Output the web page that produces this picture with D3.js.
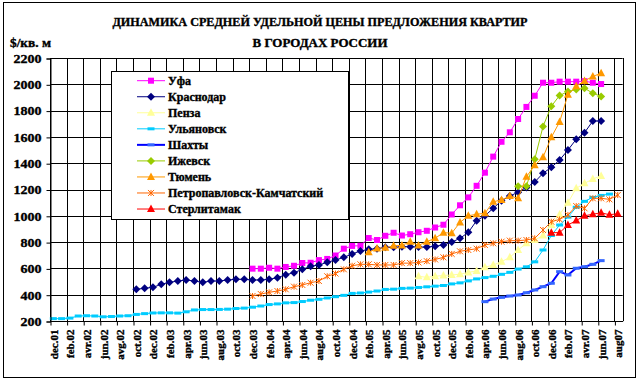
<!DOCTYPE html>
<html><head><meta charset="utf-8">
<script src="https://cdn.jsdelivr.net/npm/d3@7"></script>
<style>body{margin:0;background:#fff}svg{display:block}</style>
</head><body><svg id="c" width="643" height="384"></svg>
<script>
// ---------- DATA ----------
const titleLines = ["ДИНАМИКА СРЕДНЕЙ УДЕЛЬНОЙ ЦЕНЫ ПРЕДЛОЖЕНИЯ КВАРТИР", "В ГОРОДАХ РОССИИ"];
const unitLabel = "$/кв. м";
// month index 0 = dec.01; labels every 2 months
const xLabels = ["dec.01","feb.02","avr.02","jun.02","avg.02","oct.02","dec.02","feb.03","apr.03","jun.03","aug.03","oct.03","dec.03","feb.04","apr.04","jun.04","aug.04","oct.04","dec.04","feb.05","apr.05","jun.05","avg.05","oct.05","dec.05","feb.06","apr.06","jun.06","aug.06","oct.06","dec.06","feb.07","avr.07","jun.07","aug07"];
const yTicks = [200,400,600,800,1000,1200,1400,1600,1800,2000,2200];
const cityNames = ["Уфа","Краснодар","Пенза","Ульяновск","Шахты","Ижевск","Тюмень","Петропавловск-Камчатский","Стерлитамак"];
// first month index of each series (same order as cityNames)
const seriesStart = [24,10,44,0,52,56,38,24,60];
const ufa = [598,598,605,598,611,620,641,643,663,672,698,750,771,772,831,816,848,871,850,860,875,886,911,932,1010,1080,1140,1228,1328,1450,1563,1635,1736,1828,1913,2012,2012,2020,2020,2020,2024,2012,2002];
const krasnodar = [441,449,456,479,494,504,512,504,494,504,504,512,517,517,512,512,517,529,552,567,593,616,626,646,664,684,710,732,745,750,760,760,765,765,762,762,768,778,800,829,874,963,1000,1057,1115,1150,1180,1215,1257,1323,1369,1424,1500,1582,1632,1721,1721];
const penza = [540,532,540,546,550,556,569,581,608,626,651,684,740,791,816,850,930,1010,1100,1209,1247,1280,1303];
const ulyanovsk = [218,218,222,238,240,238,232,234,238,240,250,256,261,262,262,260,270,284,287,287,288,290,295,298,305,314,325,330,338,340,348,358,365,375,385,395,410,413,420,428,440,442,448,450,455,460,465,470,482,490,505,520,530,540,555,570,595,612,650,740,850,930,990,1065,1110,1140,1155,1165];
const shakhty = [347,367,380,390,398,415,436,461,487,575,550,601,613,631,659];
const izhevsk = [1225,1225,1430,1680,1833,1915,1945,1960,1970,1932,1908];
const tyumen = [722,752,757,772,775,803,775,803,829,872,868,950,1000,1012,1019,1107,1120,1150,1133,1297,1384,1445,1597,1714,1920,1985,2026,2060,2084];
const petropavlovsk = [390,405,418,428,441,461,474,491,504,540,561,593,620,631,631,626,626,626,640,640,645,655,668,684,710,730,740,750,778,791,803,811,811,816,829,892,955,973,1006,1074,1057,1133,1133,1125,1158];
const sterlitamak = [872,872,930,964,1000,1012,1023,1008,1016];

// ---------- STYLE ----------
const seriesValues = [ufa,krasnodar,penza,ulyanovsk,shakhty,izhevsk,tyumen,petropavlovsk,sterlitamak];
const styles = [
  {line:"#FF00FF", lw:1, marker:"square", fill:"#FF00FF"},
  {line:"#000080", lw:1, marker:"diamond", fill:"#000080"},
  {line:"#FFFF99", lw:1, marker:"triangle", fill:"#FFFF99"},
  {line:"#00CCFF", lw:1, marker:"dash", fill:"#00CCFF"},
  {line:"#0000FF", lw:2, marker:"dash", fill:"#3366FF"},
  {line:"#99CC00", lw:1, marker:"diamond", fill:"#99CC00"},
  {line:"#FF9900", lw:1, marker:"triangle", fill:"#FF9900"},
  {line:"#FF6600", lw:1, marker:"star", fill:"#FF6600"},
  {line:"#FF0000", lw:1, marker:"triangle", fill:"#FF0000"}
];
const FONT = "'Liberation Serif','Times New Roman',serif";
const pointOffset = 0.4;
const heavy = sel => sel.attr("stroke","#000").attr("stroke-width",0.35);

const svg = d3.select("#c");
svg.append("rect").attr("x",0).attr("y",0).attr("width",643).attr("height",384).attr("fill","#fff");
svg.append("rect").attr("x",3.5).attr("y",2.5).attr("width",632).attr("height",375)
   .attr("fill","none").attr("stroke","#000").attr("stroke-width",1);

const x = d3.scaleLinear().domain([0,69]).range([50,622.7]);
const y = d3.scaleLinear().domain([200,2200]).range([321,58]);

// title
svg.append("text").attr("x",320).attr("y",26).attr("text-anchor","middle")
  .attr("font-family",FONT).attr("font-weight","bold").attr("font-size",12)
  .attr("textLength",415).attr("lengthAdjust","spacingAndGlyphs").text(titleLines[0]).call(heavy);
svg.append("text").attr("x",320).attr("y",47).attr("text-anchor","middle")
  .attr("font-family",FONT).attr("font-weight","bold").attr("font-size",12)
  .attr("textLength",135).attr("lengthAdjust","spacingAndGlyphs").text(titleLines[1]).call(heavy);
svg.append("text").attr("x",10).attr("y",47)
  .attr("font-family",FONT).attr("font-weight","bold").attr("font-size",12)
  .attr("textLength",41).attr("lengthAdjust","spacingAndGlyphs").text(unitLabel).call(heavy);

const plot = svg.append("g");
const tickMonths = xLabels.map((d,i)=>i*2);

// gridlines
plot.selectAll(".hg").data(yTicks).enter().append("line")
  .attr("x1",x(0)).attr("x2",x(69)).attr("y1",d=>Math.round(y(d))+0.5).attr("y2",d=>Math.round(y(d))+0.5)
  .attr("stroke","#000").attr("stroke-width",1);
plot.selectAll(".vg").data(tickMonths).enter().append("line")
  .attr("x1",d=>Math.round(x(d))+0.5).attr("x2",d=>Math.round(x(d))+0.5)
  .attr("y1",y(2200)).attr("y2",y(200))
  .attr("stroke","#000").attr("stroke-width",1);
plot.append("line").attr("x1",Math.round(x(69))+0.5).attr("x2",Math.round(x(69))+0.5)
  .attr("y1",y(2200)).attr("y2",y(200)).attr("stroke","#000");

// axes
const yAxis = svg.append("g").attr("transform",`translate(${Math.round(x(0))+0.5},0.5)`)
  .call(d3.axisLeft(y).tickValues(yTicks).tickSize(4).tickPadding(5).tickFormat(d=>d));
yAxis.select(".domain").attr("stroke","#000");
yAxis.selectAll("line").attr("stroke","#000");
yAxis.selectAll("text").attr("font-family",FONT).attr("font-weight","bold").attr("font-size",12)
  .attr("fill","#000").attr("textLength",28).attr("lengthAdjust","spacingAndGlyphs").call(heavy);
yAxis.selectAll(".tick").filter(d=>d<1000).selectAll("text").attr("textLength",21);

const xAxis = svg.append("g").attr("transform",`translate(0.5,${Math.round(y(200))+0.5})`)
  .call(d3.axisBottom(x).tickValues(tickMonths).tickSize(4).tickFormat((d,i)=>xLabels[i]));
xAxis.select(".domain").attr("stroke","#000").attr("d",`M${x(0)},0H${x(69)}`);
xAxis.selectAll("line").attr("stroke","#000");
xAxis.selectAll("text").attr("font-family",FONT).attr("font-weight","bold").attr("font-size",11)
  .attr("fill","#000").attr("transform","rotate(-90)").attr("x",-8).attr("y",3).attr("dy","0.35em")
  .style("text-anchor","end").call(heavy);

// markers
function marker(g, type, fill, stroke){
  if(type==="square"){
    g.append("rect").attr("x",-3).attr("y",-3).attr("width",6).attr("height",6).attr("fill",fill);
  } else if(type==="diamond"){
    g.append("path").attr("d","M0,-4L4,0L0,4L-4,0Z").attr("fill",fill);
  } else if(type==="triangle"){
    g.append("path").attr("d","M0,-4.5L4,3L-4,3Z").attr("fill",fill);
  } else if(type==="dash"){
    g.append("rect").attr("x",-3.5).attr("y",-1.5).attr("width",7).attr("height",3).attr("fill",fill);
  } else if(type==="star"){
    g.append("path").attr("d","M-3,-3L3,3M-3,3L3,-3M0,-3L0,3").attr("stroke",stroke).attr("stroke-width",1).attr("fill","none");
  }
}

const line = d3.line().x(d=>x(d.m+pointOffset)).y(d=>y(d.v));
seriesValues.forEach((vals,si)=>{
  const st = styles[si];
  const pts = vals.map((v,i)=>({m:seriesStart[si]+i, v}));
  const g = plot.append("g");
  g.append("path").datum(pts).attr("d",line).attr("fill","none")
    .attr("stroke",st.line).attr("stroke-width",st.lw);
  pts.forEach(p=>{
    const mg = g.append("g").attr("transform",`translate(${x(p.m+pointOffset)},${y(p.v)})`);
    marker(mg, st.marker, st.fill, st.line);
  });
});

// legend
const lg = svg.append("g");
lg.append("rect").attr("x",111.5).attr("y",71.5).attr("width",237).attr("height",148)
  .attr("fill","#fff").attr("stroke","#000");
cityNames.forEach((name,i)=>{
  const st = styles[i];
  const cy = 80.7 + i*16.04;
  lg.append("line").attr("x1",137).attr("x2",165).attr("y1",cy).attr("y2",cy)
    .attr("stroke",st.line).attr("stroke-width",st.lw);
  const mg = lg.append("g").attr("transform",`translate(151,${cy})`);
  marker(mg, st.marker, st.fill, st.line);
  lg.append("text").attr("x",168).attr("y",cy).attr("dy","0.35em")
    .attr("font-family",FONT).attr("font-weight","bold").attr("font-size",12).attr("fill","#000")
    .text(name).call(heavy);
});
</script></body></html>
